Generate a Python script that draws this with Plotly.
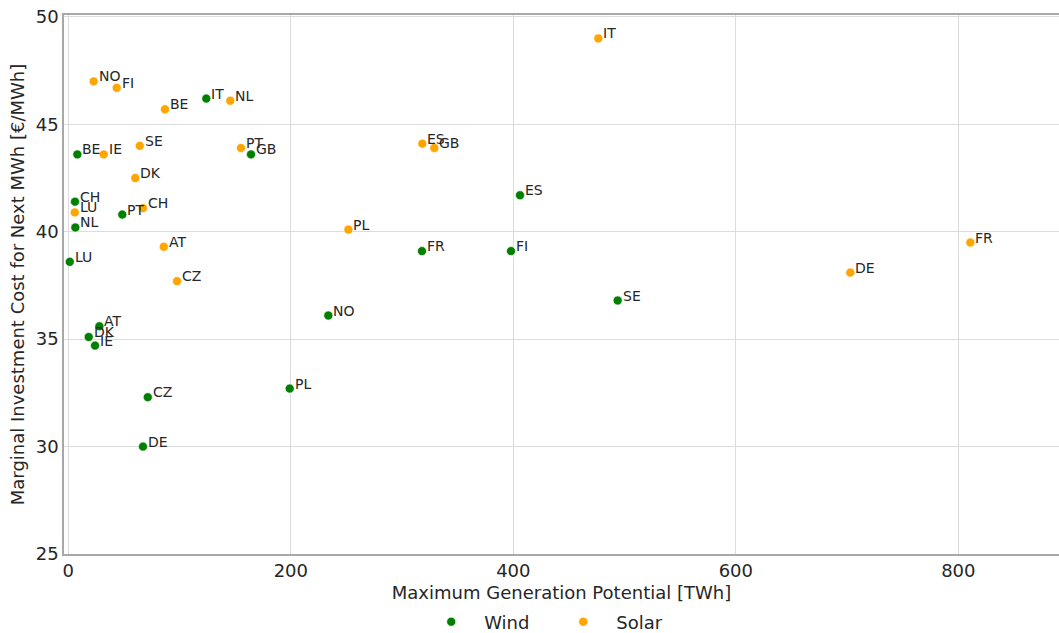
import plotly.graph_objects as go

# Wind: country, max generation potential [TWh], marginal investment cost [€/MWh]
wind_countries = ["LU", "CH", "NL", "BE", "PT", "IT", "GB", "AT", "DK", "IE",
                  "CZ", "DE", "PL", "NO", "FR", "FI", "ES", "SE"]
wind_potential = [1.3, 6.0, 6.3, 8.1, 48.5, 124.0, 164.2, 27.9, 18.3, 24.0,
                  71.4, 67.1, 199.0, 233.7, 317.9, 397.9, 406.0, 493.8]
wind_cost = [38.6, 41.4, 40.2, 43.6, 40.8, 46.2, 43.6, 35.6, 35.1, 34.7,
             32.3, 30.0, 32.7, 36.1, 39.1, 39.1, 41.7, 36.8]

# Solar
solar_countries = ["NO", "FI", "BE", "NL", "SE", "IE", "DK", "CH", "LU", "AT",
                   "CZ", "PT", "PL", "ES", "GB", "IT", "DE", "FR"]
solar_potential = [22.8, 43.5, 86.9, 145.6, 64.2, 31.8, 60.2, 67.1, 5.8, 85.8,
                   97.7, 155.2, 251.7, 318.2, 329.0, 476.4, 702.9, 810.8]
solar_cost = [47.0, 46.7, 45.7, 46.1, 44.0, 43.6, 42.5, 41.1, 40.9, 39.3,
              37.7, 43.9, 40.1, 44.1, 43.9, 49.0, 38.1, 39.5]

FONT = "DejaVu Sans"

fig = go.Figure()
for name, xs, ys, color in [("Wind", wind_potential, wind_cost, "#008000"),
                            ("Solar", solar_potential, solar_cost, "#FFA500")]:
    fig.add_trace(go.Scatter(
        x=xs, y=ys, mode="markers", name=name,
        marker=dict(color=color, size=9, line=dict(color="white", width=0.6)),
    ))

# Country labels next to each point
annotations = []
for names, xs, ys in [(wind_countries, wind_potential, wind_cost),
                      (solar_countries, solar_potential, solar_cost)]:
    for n, x, y in zip(names, xs, ys):
        annotations.append(dict(
            x=x, y=y, text=n, showarrow=False, xanchor="left", yanchor="middle",
            xshift=3, yshift=5, font=dict(family=FONT, size=14, color="#262626"),
        ))

fig.update_layout(
    width=1059, height=633,
    margin=dict(l=64, r=0, t=15, b=79, autoexpand=False),
    paper_bgcolor="white", plot_bgcolor="white",
    font=dict(family=FONT, size=18, color="#262626"),
    annotations=annotations,
    showlegend=True,
    legend=dict(orientation="h", x=0.356, xanchor="left",
                y=(633 - 622) / 633, yref="container", yanchor="middle",
                font=dict(family=FONT, size=18, color="#262626"),
                itemwidth=56, entrywidth=61, entrywidthmode="pixels"),
)
fig.update_xaxes(
    range=[-3.9, 890.5], tickvals=[0, 200, 400, 600, 800],
    showgrid=True, gridcolor="#dcdcdc", gridwidth=1, zeroline=False,
    showline=True, linecolor="#a8a8a8", linewidth=1.5, mirror=True,
    ticks="", tickfont=dict(size=18),
    title=dict(text="Maximum Generation Potential [TWh]", font=dict(size=18), standoff=8),
)
fig.update_yaxes(
    range=[25, 50.09], tickvals=[25, 30, 35, 40, 45, 50],
    showgrid=True, gridcolor="#dcdcdc", gridwidth=1, zeroline=False,
    showline=True, linecolor="#a8a8a8", linewidth=1.5, mirror=False,
    ticks="", tickfont=dict(size=18),
    title=dict(text="Marginal Investment Cost for Next MWh [€/MWh]", font=dict(size=18), standoff=6),
)

fig.write_html("out.html")
